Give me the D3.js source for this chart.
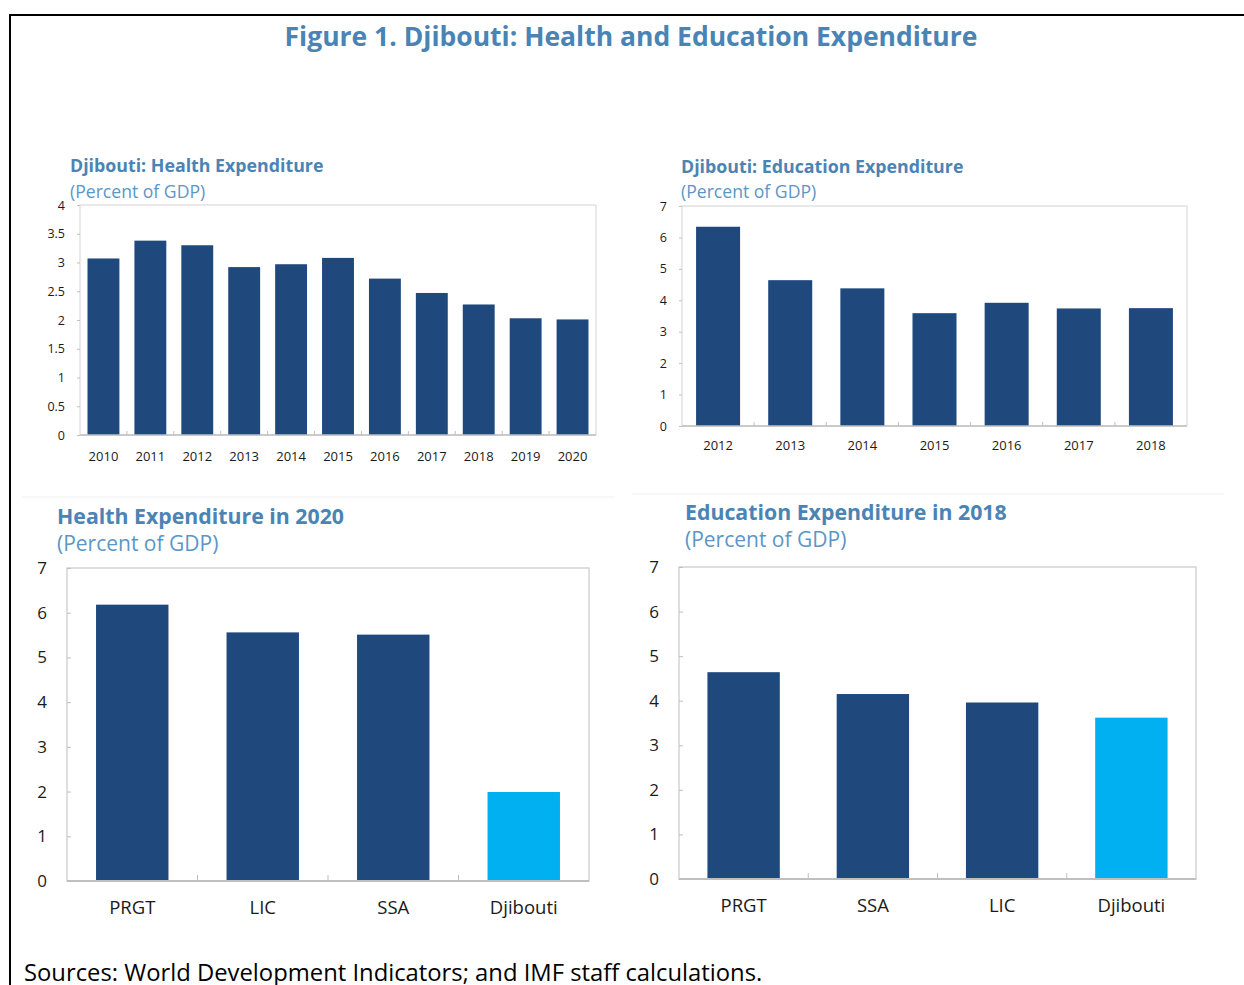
<!DOCTYPE html>
<html>
<head>
<meta charset="utf-8">
<script src="https://cdn.jsdelivr.net/npm/d3@7"></script>
<style>
  body { margin: 0; background: #fff; }
  svg { display: block; font-family: "Open Sans", "Noto Sans", sans-serif; }
</style>
</head>
<body>
<svg id="fig" width="1244" height="985"></svg>
<script>
// Values
const healthYears = ["2010", "2011", "2012", "2013", "2014", "2015", "2016", "2017", "2018", "2019", "2020"];
const healthValues = [3.07, 3.38, 3.30, 2.92, 2.97, 3.08, 2.72, 2.47, 2.27, 2.03, 2.01];
const healthTicks = [0, 0.5, 1, 1.5, 2, 2.5, 3, 3.5, 4];

const eduYears = ["2012", "2013", "2014", "2015", "2016", "2017", "2018"];
const eduValues = [6.34, 4.64, 4.38, 3.59, 3.92, 3.74, 3.75];
const eduTicks = [0, 1, 2, 3, 4, 5, 6, 7];

const health2020Groups = ["PRGT", "LIC", "SSA", "Djibouti"];
const health2020Values = [6.18, 5.56, 5.51, 1.99];

const edu2018Groups = ["PRGT", "SSA", "LIC", "Djibouti"];
const edu2018Values = [4.64, 4.15, 3.96, 3.62];
const compTicks = [0, 1, 2, 3, 4, 5, 6, 7];

const darkBlue = "#1f497d";
const lightBlue = "#00b0f0";
const titleBlue = "#4a84b5";
const subBlue = "#5b96c6";

const svg = d3.select("#fig");

// outer frame (cut off at right and bottom)
svg.append("path")
  .attr("d", "M10,985 L10,15 L1244,15")
  .attr("fill", "none").attr("stroke", "#000").attr("stroke-width", 2);

svg.append("text")
  .attr("x", 631).attr("y", 46)
  .attr("text-anchor", "middle")
  .attr("font-weight", "bold").attr("font-size", 26.5)
  .attr("fill", titleBlue)
  .text("Figure 1. Djibouti: Health and Education Expenditure");

// faint separators between rows
svg.append("line").attr("x1", 22).attr("x2", 615).attr("y1", 497).attr("y2", 497).attr("stroke", "#f0f0f0");
svg.append("line").attr("x1", 632).attr("x2", 1224).attr("y1", 494).attr("y2", 494).attr("stroke", "#f0f0f0");

function drawChart(cfg) {
  const g = svg.append("g");

  g.append("text").attr("x", cfg.titleX).attr("y", cfg.titleY)
    .attr("font-weight", "bold").attr("font-size", cfg.titleSize).attr("fill", titleBlue)
    .text(cfg.title);
  g.append("text").attr("x", cfg.titleX).attr("y", cfg.subY)
    .attr("font-size", cfg.subSize).attr("fill", subBlue)
    .text("(Percent of GDP)");

  const x = d3.scaleBand().domain(cfg.cats).range([cfg.left, cfg.right]).padding(0);
  const y = d3.scaleLinear().domain([0, d3.max(cfg.ticks)]).range([cfg.bottom, cfg.top]);

  // plot frame
  g.append("rect")
    .attr("x", cfg.left).attr("y", cfg.top)
    .attr("width", cfg.right - cfg.left).attr("height", cfg.bottom - cfg.top)
    .attr("fill", "none").attr("stroke", "#d4d4d4").attr("stroke-width", cfg.frameW);

  const bw = x.bandwidth() * cfg.barFrac;
  g.selectAll(".bar").data(cfg.values).join("rect")
    .attr("class", "bar")
    .attr("x", (d, i) => x(cfg.cats[i]) + (x.bandwidth() - bw) / 2)
    .attr("y", d => y(d))
    .attr("width", bw)
    .attr("height", d => y(0) - y(d))
    .attr("fill", (d, i) => cfg.highlight && cfg.cats[i] === "Djibouti" ? lightBlue : darkBlue);

  // y axis
  const yAxis = g.append("g")
    .attr("transform", `translate(${cfg.left},0)`)
    .call(d3.axisLeft(y).tickValues(cfg.ticks).tickSize(cfg.yTickIn ? -4 : 3)
      .tickPadding(cfg.yPad).tickFormat(d => String(d)));
  yAxis.select(".domain").remove();
  yAxis.selectAll("line").attr("stroke", "#bfbfbf");
  yAxis.selectAll("text").attr("font-size", cfg.yLabelSize).attr("fill", "#1a1a1a")
    .attr("font-family", "'Open Sans', 'Noto Sans', sans-serif");

  // x axis: ticks sit on band boundaries, pointing up
  const bounds = cfg.cats.slice(1).map(c => x(c));
  g.selectAll(".xtick").data(bounds).join("line")
    .attr("class", "xtick")
    .attr("x1", d => d).attr("x2", d => d)
    .attr("y1", cfg.bottom).attr("y2", cfg.bottom - cfg.xTickLen)
    .attr("stroke", "#bfbfbf");
  g.append("line")
    .attr("x1", cfg.left).attr("x2", cfg.right)
    .attr("y1", cfg.bottom).attr("y2", cfg.bottom)
    .attr("stroke", "#bfbfbf").attr("stroke-width", cfg.frameW + 0.5);

  g.selectAll(".xlab").data(cfg.cats).join("text")
    .attr("class", "xlab")
    .attr("x", d => x(d) + x.bandwidth() / 2)
    .attr("y", cfg.xLabelY)
    .attr("text-anchor", "middle")
    .attr("font-size", cfg.xLabelSize).attr("fill", "#1a1a1a")
    .text(d => d);
}

drawChart({
  title: "Djibouti: Health Expenditure", titleX: 70, titleY: 172, subY: 198, titleSize: 17.8, subSize: 17.6,
  cats: healthYears, values: healthValues, ticks: healthTicks,
  left: 80, right: 596, top: 205, bottom: 435, barFrac: 0.68,
  yLabelSize: 12.5, xLabelSize: 13, yPad: 12, yTickIn: false, xTickLen: 4, xLabelY: 461, frameW: 1
});

drawChart({
  title: "Djibouti: Education Expenditure", titleX: 681, titleY: 173, subY: 198, titleSize: 17.8, subSize: 17.6,
  cats: eduYears, values: eduValues, ticks: eduTicks,
  left: 682, right: 1187, top: 206, bottom: 426, barFrac: 0.61,
  yLabelSize: 12.5, xLabelSize: 13, yPad: 12, yTickIn: false, xTickLen: 4, xLabelY: 450, frameW: 1
});

drawChart({
  title: "Health Expenditure in 2020", titleX: 57, titleY: 524, subY: 551, titleSize: 21.3, subSize: 21,
  cats: health2020Groups, values: health2020Values, ticks: compTicks, highlight: true,
  left: 67, right: 589, top: 568, bottom: 881, barFrac: 0.555,
  yLabelSize: 17, xLabelSize: 18.5, yPad: 20, yTickIn: true, xTickLen: 6, xLabelY: 914, frameW: 1.5
});

drawChart({
  title: "Education Expenditure in 2018", titleX: 685, titleY: 520, subY: 547, titleSize: 21.3, subSize: 21,
  cats: edu2018Groups, values: edu2018Values, ticks: compTicks, highlight: true,
  left: 679, right: 1196, top: 567, bottom: 879, barFrac: 0.56,
  yLabelSize: 17, xLabelSize: 18.5, yPad: 20, yTickIn: true, xTickLen: 6, xLabelY: 912, frameW: 1.5
});

svg.append("text")
  .attr("x", 24).attr("y", 981)
  .attr("font-size", 23.8).attr("fill", "#000")
  .text("Sources: World Development Indicators; and IMF staff calculations.");
</script>
</body>
</html>
